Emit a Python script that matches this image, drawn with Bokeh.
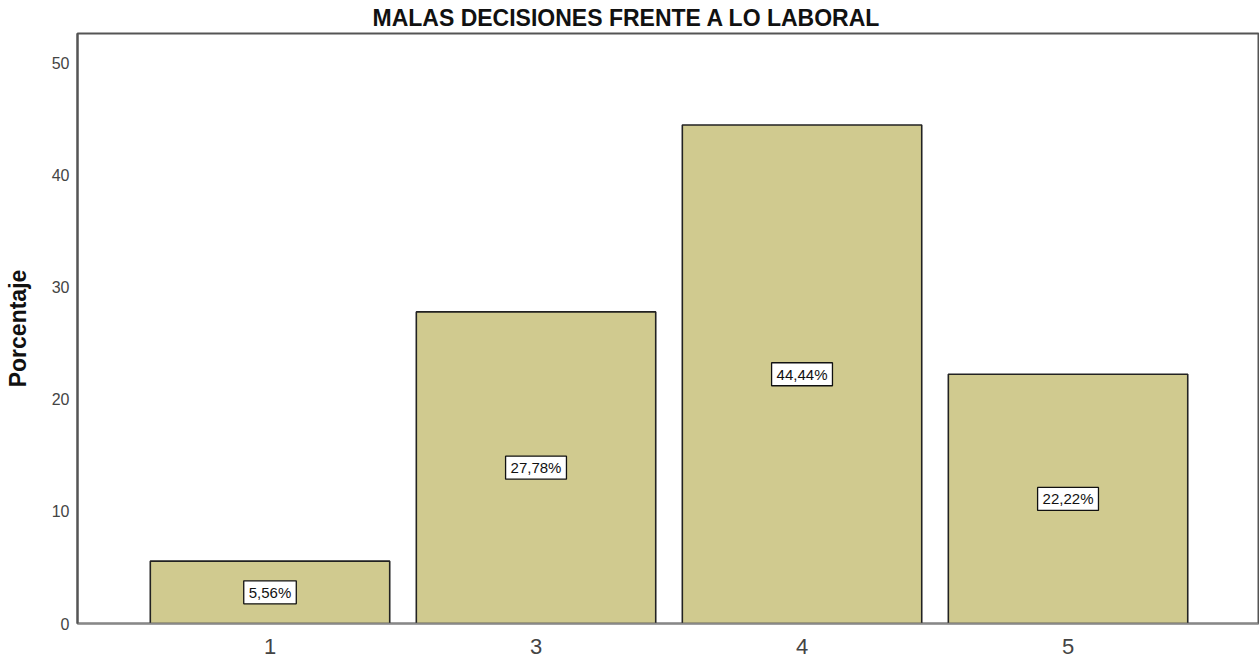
from bokeh.plotting import figure
from bokeh.models import ColumnDataSource, Range1d, FixedTicker, Title
from bokeh.core.properties import value
from bokeh.embed import file_html
from bokeh.resources import INLINE

# Data
categories = ["1", "3", "4", "5"]
percentages = [5.56, 27.78, 44.44, 22.22]
y_ticks = [0, 10, 20, 30, 40, 50]
title_text = "MALAS DECISIONES FRENTE A LO LABORAL"
y_label = "Porcentaje"

xpos = list(range(len(categories)))
labels = [("%.2f" % v).replace(".", ",") + "%" for v in percentages]
mids = [v / 2 for v in percentages]

src = ColumnDataSource(dict(x=xpos, top=percentages, mid=mids, lab=labels))

p = figure(width=1259, height=658, output_backend="svg", toolbar_location=None,
           x_range=Range1d(-0.7237, 3.716), y_range=Range1d(0, 52.6),
           min_border_left=77, min_border_right=1, min_border_top=32, min_border_bottom=35)

p.title = Title(text=title_text, align="left", offset=295,
                text_font="Liberation Sans", text_font_size="23px", text_font_style="bold",
                text_color="#111111", standoff=5)

p.vbar(x="x", top="top", width=0.9, source=src,
       fill_color="#D0CA8F", line_color="#222222", line_width=1.6)

p.text(x="x", y="mid", text="lab", source=src,
       text_align="center", text_baseline="middle",
       text_font=value("Liberation Sans"), text_font_size="15px", text_color="#111111",
       background_fill_color="white", border_line_color="#111111", border_line_width=1.3,
       padding=dict(left=5, right=5, top=3, bottom=3))

p.xgrid.visible = False
p.ygrid.visible = False
p.outline_line_color = "#555555"
p.outline_line_width = 2

p.xaxis.ticker = FixedTicker(ticks=xpos)
p.xaxis.major_label_overrides = {i: c for i, c in zip(xpos, categories)}
p.xaxis.major_label_text_font = "Liberation Sans"
p.xaxis.major_label_text_font_size = "22px"
p.xaxis.major_label_text_color = "#444444"
p.xaxis.major_tick_out = 0
p.xaxis.major_tick_in = 0
p.xaxis.major_label_standoff = 15
p.xaxis.major_tick_line_color = None
p.xaxis.minor_tick_line_color = None
p.xaxis.axis_line_color = "#888888"
p.xaxis.axis_line_width = 1.5

p.yaxis.ticker = FixedTicker(ticks=y_ticks)
p.yaxis.major_label_text_font = "Liberation Sans"
p.yaxis.major_label_text_font_size = "16px"
p.yaxis.major_label_text_color = "#444444"
p.yaxis.major_tick_out = 0
p.yaxis.major_tick_in = 0
p.yaxis.major_label_standoff = 8
p.yaxis.major_tick_line_color = None
p.yaxis.minor_tick_line_color = None
p.yaxis.axis_line_color = "#555555"
p.yaxis.axis_line_width = 2
p.yaxis.axis_label = y_label
p.yaxis.axis_label_text_font = "Liberation Sans"
p.yaxis.axis_label_text_font_size = "23px"
p.yaxis.axis_label_text_font_style = "bold"
p.yaxis.axis_label_text_color = "#111111"
p.yaxis.axis_label_standoff = 18

open("out.html", "w").write(file_html(p, INLINE))
